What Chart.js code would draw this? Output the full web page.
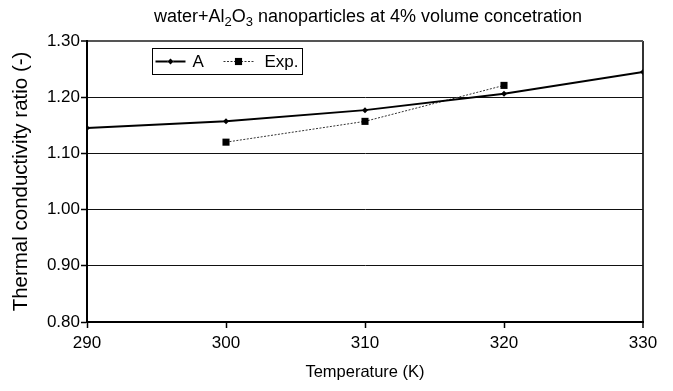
<!DOCTYPE html>
<html>
<head>
<meta charset="utf-8">
<script src="https://cdn.jsdelivr.net/npm/chart.js@4"></script>
<style>
  html, body { margin: 0; padding: 0; background: #fff; }
  #wrap { width: 673px; height: 391px; position: relative; }
</style>
</head>
<body>
<div id="wrap"><canvas id="c" width="673" height="391"></canvas></div>
<script>
// data
const temps = [290, 300, 310, 320, 330];
const ratioA = [1.145, 1.157, 1.177, 1.206, 1.245];
const expTemps = [300, 310, 320];
const ratioExp = [1.12, 1.157, 1.221];
const xTicks = [290, 300, 310, 320, 330];
const yTicks = [0.8, 0.9, 1.0, 1.1, 1.2, 1.3];
const seriesNames = ["A", "Exp."];

const FONT = "'Liberation Sans', Arial, sans-serif";
const pts = (xs, ys) => xs.map((x, i) => ({ x, y: ys[i] }));

// title with sub-scripts (Al2O3), drawn on the canvas above the plot
const titlePlugin = {
  id: "subTitle",
  afterDraw(chart) {
    const { ctx, chartArea } = chart;
    const parts = [["water+Al", 0], ["2", 1], ["O", 0], ["3", 1], [" nanoparticles at 4% volume concetration", 0]];
    const big = `18px ${FONT}`, small = `13px ${FONT}`;
    ctx.save();
    ctx.fillStyle = "#000";
    ctx.textBaseline = "alphabetic";
    let w = 0;
    for (const [t, s] of parts) { ctx.font = s ? small : big; w += ctx.measureText(t).width; }
    let x = (chartArea.left + chartArea.right) / 2 - w / 2 + 3;
    const y = 22;
    for (const [t, s] of parts) {
      ctx.font = s ? small : big;
      ctx.fillText(t, x, s ? y + 4 : y);
      x += ctx.measureText(t).width;
    }
    ctx.restore();
  },
};

// boxed legend inside the plot, top-left
const legendPlugin = {
  id: "boxLegend",
  afterDraw(chart) {
    const { ctx, chartArea } = chart;
    const bx = chartArea.left + 65.5, by = chartArea.top + 7.5, bw = 150, bh = 26;
    const cy = by + bh / 2;
    ctx.save();
    ctx.fillStyle = "#fff";
    ctx.fillRect(bx, by, bw, bh);
    ctx.strokeStyle = "#000";
    ctx.lineWidth = 1;
    ctx.strokeRect(bx, by, bw, bh);
    chart.data.datasets.forEach((ds, i) => {
      const x0 = bx + 3 + i * 68;
      ctx.strokeStyle = ds.borderColor;
      ctx.lineWidth = ds.borderWidth;
      ctx.setLineDash(ds.borderDash || []);
      ctx.beginPath(); ctx.moveTo(x0, cy); ctx.lineTo(x0 + 30, cy); ctx.stroke();
      ctx.setLineDash([]);
      Chart.helpers.drawPoint(ctx, { pointStyle: ds.pointStyle, radius: ds.pointRadius, borderWidth: 0 }, x0 + 15, cy);
      ctx.fillStyle = "#000";
      ctx.fill();
      ctx.font = `17px ${FONT}`;
      ctx.textBaseline = "middle";
      ctx.fillText(seriesNames[i], x0 + (i ? 41 : 37), cy + 1);
    });
    ctx.restore();
  },
};

new Chart(document.getElementById("c"), {
  type: "line",
  data: {
    datasets: [
      {
        label: seriesNames[0], data: pts(temps, ratioA),
        borderColor: "#000", backgroundColor: "#000", borderWidth: 2,
        pointStyle: "rectRot", pointRadius: 3, pointBorderWidth: 0, tension: 0,
      },
      {
        label: seriesNames[1], data: pts(expTemps, ratioExp),
        borderColor: "#333", backgroundColor: "#000", borderWidth: 1, borderDash: [2, 1.5],
        pointStyle: "rect", pointRadius: 5, pointBorderWidth: 0, tension: 0,
      },
    ],
  },
  options: {
    responsive: false, animation: false,
    layout: { padding: { top: 41, right: 30, left: 0, bottom: 0 } },
    plugins: { legend: { display: false }, tooltip: { enabled: false } },
    scales: {
      x: {
        type: "linear", min: xTicks[0], max: xTicks[xTicks.length - 1],
        afterFit: (s) => { s.height = 69; },
        afterBuildTicks: (s) => { s.ticks = xTicks.map((v) => ({ value: v })); },
        ticks: { color: "#000", font: { family: FONT, size: 17 }, padding: 5, maxRotation: 0 },
        grid: {
          color: (c) => (c.tick && c.tick.value === 330 ? "#333" : "rgba(0,0,0,0)"),
          lineWidth: (c) => (c.tick && c.tick.value === 330 ? 2 : 1),
          tickColor: "#000", tickLength: 6, tickWidth: 1.5,
        },
        border: { color: "#000", width: 2 },
        title: { display: true, text: "Temperature (K)", color: "#000", font: { family: FONT, size: 16.5 }, padding: { top: 4, bottom: 9 } },
      },
      y: {
        min: yTicks[0], max: yTicks[yTicks.length - 1],
        afterFit: (s) => { s.width = 87; },
        afterBuildTicks: (s) => { s.ticks = yTicks.map((v) => ({ value: v })); },
        ticks: { color: "#000", font: { family: FONT, size: 17 }, padding: 1, callback: (v) => v.toFixed(2) },
        grid: {
          color: (c) => (c.tick && c.tick.value === 1.3 ? "#555" : "#111"),
          lineWidth: (c) => (c.tick && c.tick.value === 1.3 ? 2 : 1),
          tickColor: "#000", tickLength: 6, tickWidth: 1.5,
        },
        border: { color: "#000", width: 2 },
        title: { display: true, text: "Thermal conductivity ratio (-)", color: "#000", font: { family: FONT, size: 20.5 }, padding: { top: 9 } },
      },
    },
  },
  plugins: [titlePlugin, legendPlugin],
});
</script>
</body>
</html>
